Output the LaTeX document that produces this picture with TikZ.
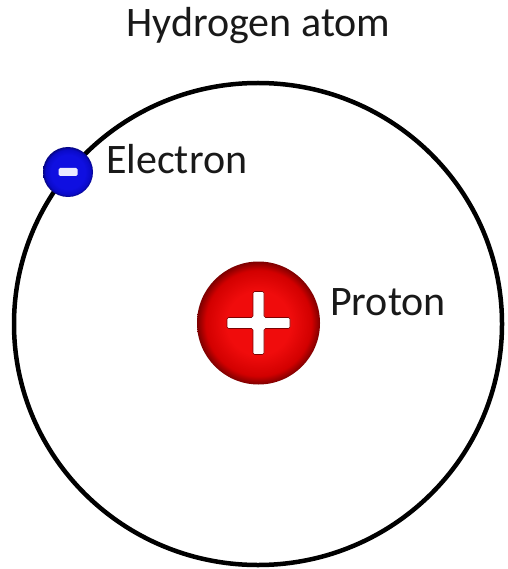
\documentclass[tikz,border=0pt]{standalone}
\usepackage{fontspec}
\setmainfont{Carlito}
\usetikzlibrary{shapes.geometric}
\definecolor{protinner}{RGB}{240,12,12}
\definecolor{protmid}{RGB}{210,0,0}
\definecolor{protouter}{RGB}{125,0,0}
\definecolor{elinner}{RGB}{15,15,225}
\definecolor{elmid}{RGB}{10,10,200}
\definecolor{elouter}{RGB}{5,5,130}
\definecolor{txt}{RGB}{25,25,25}
\pgfdeclareradialshading{protshade}{\pgfpoint{0bp}{0bp}}{color(0bp)=(protinner); color(13bp)=(protinner); color(21.5bp)=(protmid); color(25bp)=(protouter); color(50bp)=(protouter)}
\pgfdeclareradialshading{elshade}{\pgfpoint{0bp}{0bp}}{color(0bp)=(elinner); color(17bp)=(elinner); color(22.5bp)=(elmid); color(25bp)=(elouter); color(50bp)=(elouter)}
\begin{document}
\begin{tikzpicture}[x=1pt,y=-1pt,
  lbl/.style={inner sep=0pt, text=txt, font=\fontsize{42}{48}\selectfont},
  orbitstyle/.style={draw=black, ellipse, line width=4.5pt, minimum width=488pt, minimum height=482pt, inner sep=0pt},
  protonstyle/.style={circle, inner sep=0pt, minimum size=123pt, shading=protshade},
  electronstyle/.style={circle, inner sep=0pt, minimum size=50pt, shading=elshade}
]
\useasboundingbox (0,0) rectangle (507,569);
\fill[white] (0,0) rectangle (507,569);
\node[lbl, anchor=base] (title) at (258.5,37) {Hydrogen atom};
\node[orbitstyle] (orbit) at (258,324) {};
\node[protonstyle] (proton) at (258.5,323) {};
\begin{scope}[shift={(proton.center)}]
\filldraw[fill=white, draw=protouter, line width=0.6pt, rounded corners=1.5pt]
 (-5.5,-31.5) -- (5.5,-31.5) -- (5.5,-5.5) -- (31.5,-5.5) -- (31.5,5.5) -- (5.5,5.5) -- (5.5,31.5) -- (-5.5,31.5) -- (-5.5,5.5) -- (-31.5,5.5) -- (-31.5,-5.5) -- (-5.5,-5.5) -- cycle;
\end{scope}
\node[electronstyle] (electron) at (68,172) {};
\begin{scope}[shift={(electron.center)}]
\fill[white!92!blue, rounded corners=1.5pt] (-9.5,-4) rectangle (9.5,4);
\end{scope}
\node[lbl, anchor=base west] (elabel) at (106,174) {Electron};
\node[lbl, anchor=base west] (plabel) at (330,315) {Proton};
\end{tikzpicture}
\end{document}
